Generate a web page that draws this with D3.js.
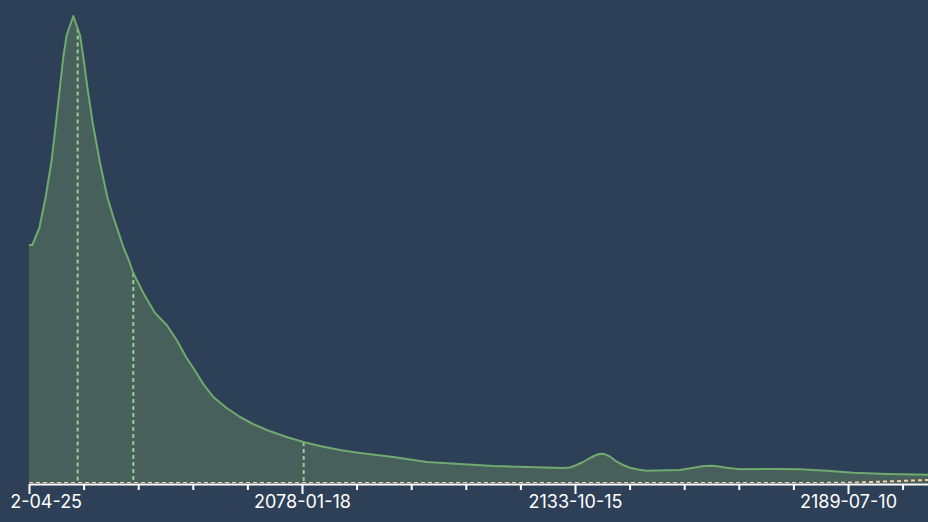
<!DOCTYPE html>
<html>
<head>
<meta charset="utf-8">
<script src="https://cdn.jsdelivr.net/npm/d3@7"></script>
<style>
  html, body { margin: 0; padding: 0; background: #2e4057; overflow: hidden; }
  svg { display: block; }
</style>
</head>
<body>
<div id="chart"></div>
<script>
// Density curve, x as decimal years
const densityYears = [2022.312, 2022.99, 2024.42, 2025.72, 2026.95, 2027.82, 2028.64, 2029.32, 2030.01, 2031.36,
  2032.72, 2033.40, 2034.22, 2035.32, 2036.81, 2038.30, 2039.52, 2040.22, 2041.56, 2042.59,
  2043.61, 2045.65, 2048.04, 2050.42, 2052.47, 2053.14, 2054.37, 2055.86, 2057.90, 2059.94,
  2062.53, 2065.39, 2068.04, 2070.84, 2074.58, 2078.31, 2081.72, 2085.81, 2089.48, 2093.30,
  2096.69, 2103.51, 2110.31, 2117.10, 2123.92, 2131.40, 2132.76, 2134.13, 2135.42, 2136.85,
  2137.87, 2138.74, 2139.30, 2139.91, 2140.93, 2142.30, 2143.58, 2145.01, 2146.64, 2148.42,
  2155.22, 2158.63, 2160.12, 2161.69, 2163.18, 2164.75, 2167.47, 2174.27, 2179.72, 2185.17,
  2190.60, 2197.42, 2205.85, 2212.39]
const densityValues = [0.238, 0.238, 0.255, 0.286, 0.323, 0.360, 0.396, 0.426, 0.448, 0.467,
  0.448, 0.426, 0.396, 0.360, 0.320, 0.286, 0.266, 0.256, 0.236, 0.224,
  0.210, 0.190, 0.170, 0.158, 0.143, 0.137, 0.126, 0.115, 0.099, 0.086,
  0.0755, 0.066, 0.059, 0.053, 0.0465, 0.041, 0.037, 0.033, 0.0303, 0.028,
  0.026, 0.021, 0.019, 0.017, 0.016, 0.015, 0.0155, 0.018, 0.021, 0.025,
  0.0275, 0.029, 0.0292, 0.0287, 0.0265, 0.0213, 0.018, 0.0153, 0.0135, 0.0123,
  0.013, 0.0157, 0.017, 0.0173, 0.0165, 0.0153, 0.0137, 0.014, 0.0137, 0.0123,
  0.0103, 0.009, 0.0083, 0.0078]

// Second (almost flat) series along the baseline
const tailYears = [2022.312, 2179.72, 2190.60, 2197.42, 2205.85, 2212.39]
const tailValues = [0, 0, 0.0005, 0.0015, 0.003, 0.0038]

// Dashed markers
const quantileYears = [2032.25, 2043.61, 2078.39]

const majorTickLabels = ["2022-04-25", "2078-01-18", "2133-10-15", "2189-07-10"]

const width = 928
const height = 522
const margin = { left: 29, bottom: 39, top: 16 }
const plotRight = 960   // plot runs past the right edge of the frame
const baseY = height - margin.bottom

const parse = d3.utcParse("%Y-%m-%d")
const toDate = y => {
  const y0 = Math.floor(y)
  const a = Date.UTC(y0, 0, 1), b = Date.UTC(y0 + 1, 0, 1)
  return new Date(a + (y - y0) * (b - a))
}

const x = d3.scaleUtc()
  .domain([parse(majorTickLabels[0]), toDate(densityYears[densityYears.length - 1])])
  .range([margin.left, plotRight])

const y = d3.scaleLinear()
  .domain([0, d3.max(densityValues)])
  .range([baseY, margin.top])

const svg = d3.select("#chart")
  .append("svg")
  .attr("width", width)
  .attr("height", height)
  .attr("viewBox", [0, 0, width, height])
  .style("background", "#2e4057")

const defs = svg.append("defs")
defs.append("clipPath")
  .attr("id", "plot-clip")
  .append("rect")
  .attr("x", margin.left)
  .attr("y", 0)
  .attr("width", plotRight - margin.left)
  .attr("height", baseY)

// the chart frame starts a little right of the page edge
defs.append("clipPath")
  .attr("id", "frame-clip")
  .append("rect")
  .attr("x", 10)
  .attr("y", 0)
  .attr("width", width)
  .attr("height", height)

const g = svg.append("g").attr("clip-path", "url(#plot-clip)")

const density = densityYears.map((yr, i) => ({ date: toDate(yr), v: densityValues[i] }))
const tail = tailYears.map((yr, i) => ({ date: toDate(yr), v: tailValues[i] }))

// Area
g.append("path")
  .datum(density)
  .attr("fill", "rgb(71,96,91)")
  .attr("d", d3.area().x(d => x(d.date)).y0(y(0)).y1(d => y(d.v)))

// Baseline series
g.append("path")
  .datum(tail)
  .attr("fill", "none")
  .attr("stroke", "#f5cfa2")
  .attr("stroke-width", 2)
  .attr("stroke-dasharray", "4,3")
  .attr("d", d3.line().curve(d3.curveMonotoneX).x(d => x(d.date)).y(d => y(d.v)))

// Quantile lines up to the curve
const bis = d3.bisector(d => d.date).left
const valueAt = date => {
  const i = bis(density, date)
  const a = density[i - 1], b = density[i]
  const t = (date - a.date) / (b.date - a.date)
  return a.v + t * (b.v - a.v)
}

g.append("g")
  .selectAll("line")
  .data(quantileYears.map(toDate))
  .join("line")
  .attr("x1", d => x(d))
  .attr("x2", d => x(d))
  .attr("y1", d => y(valueAt(d)))
  .attr("y2", y(0))
  .attr("stroke", "#98cf98")
  .attr("stroke-width", 2)
  .attr("stroke-dasharray", "4,3")

// Curve outline
g.append("path")
  .datum(density)
  .attr("fill", "none")
  .attr("stroke", "#6fab6f")
  .attr("stroke-width", 2)
  .attr("stroke-linejoin", "round")
  .attr("d", d3.line().x(d => x(d.date)).y(d => y(d.v)))

// Axis: minor ticks every fifth of a major step
const majors = majorTickLabels.map(parse)
const step = (majors[1] - majors[0]) / 5
const allTicks = d3.range(0, 40)
  .map(k => new Date(+majors[0] + k * step))
  .filter(d => d <= x.domain()[1])
const minorTicks = allTicks.filter((d, k) => k % 5 !== 0)

const axisG = svg.append("g")
  .attr("clip-path", "url(#frame-clip)")
  .append("g")
  .attr("transform", `translate(0,${baseY + 1})`)

axisG.append("g")
  .call(d3.axisBottom(x).tickValues(minorTicks).tickSize(6).tickSizeOuter(0).tickFormat(""))
  .call(s => s.select(".domain").attr("stroke", "#fff").attr("stroke-width", 2))
  .call(s => s.selectAll(".tick line").attr("stroke", "#fff").attr("stroke-width", 2))

axisG.append("g")
  .call(d3.axisBottom(x).tickValues(majors).tickSize(10).tickSizeOuter(0)
    .tickFormat((d, i) => majorTickLabels[i]))
  .call(s => s.select(".domain").remove())
  .call(s => s.selectAll(".tick line").attr("stroke", "#fff").attr("stroke-width", 2))
  .call(s => s.selectAll(".tick text")
    .attr("fill", "#fff")
    .attr("y", 24)
    .attr("dy", null)
    .attr("font-family", "Inter, sans-serif")
    .attr("font-size", 18))
</script>
</body>
</html>
